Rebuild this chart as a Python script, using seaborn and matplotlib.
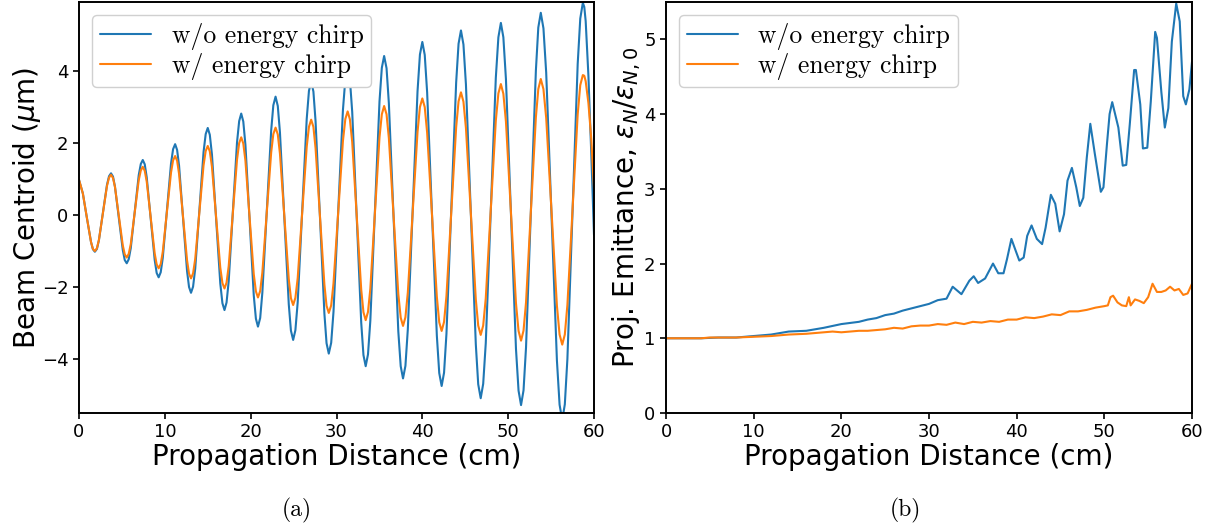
import matplotlib
matplotlib.use("Agg")
import matplotlib.pyplot as plt
import seaborn as sns

# colours of the two runs
blue = "#1f77b4"
orange = "#ff7f0e"
labels = ["w/o energy chirp", "w/ energy chirp"]

# (a) beam centroid vs propagation distance (um vs cm)
dist_centroid = [0.0, 0.45, 0.9, 1.4, 1.62, 1.85,
                 2.09, 2.32, 2.79, 3.26, 3.50, 3.73,
                 3.96, 4.19, 4.65, 5.10, 5.33, 5.56,
                 5.79, 6.03, 6.50, 6.96, 7.20, 7.43,
                 7.66, 7.89, 8.36, 8.82, 9.05, 9.28,
                 9.52, 9.76, 10.24, 10.72, 10.96, 11.2,
                 11.43, 11.66, 12.13, 12.59, 12.82, 13.05,
                 13.29, 13.54, 14.03, 14.51, 14.76, 15.0,
                 15.24, 15.49, 15.98, 16.46, 16.71, 16.95,
                 17.19, 17.44, 17.93, 18.41, 18.66, 18.9,
                 19.14, 19.39, 19.88, 20.36, 20.61, 20.85,
                 21.11, 21.36, 21.88, 22.39, 22.64, 22.9,
                 23.16, 23.41, 23.93, 24.44, 24.69, 24.95,
                 25.21, 25.48, 26.0, 26.53, 26.79, 27.05,
                 27.31, 27.56, 28.08, 28.59, 28.84, 29.1,
                 29.38, 29.65, 30.2, 30.75, 31.03, 31.3,
                 31.56, 31.83, 32.35, 32.88, 33.14, 33.4,
                 33.67, 33.94, 34.48, 35.01, 35.28, 35.55,
                 35.83, 36.1, 36.65, 37.2, 37.48, 37.75,
                 38.03, 38.31, 38.88, 39.44, 39.72, 40.0,
                 40.28, 40.56, 41.13, 41.69, 41.97, 42.25,
                 42.53, 42.81, 43.38, 43.94, 44.22, 44.5,
                 44.79, 45.08, 45.65, 46.23, 46.51, 46.8,
                 47.09, 47.39, 47.98, 48.56, 48.86, 49.15,
                 49.44, 49.74, 50.33, 50.91, 51.21, 51.5,
                 51.79, 52.08, 52.65, 53.23, 53.51, 53.8,
                 54.11, 54.43, 55.05, 55.68, 55.99, 56.3,
                 56.6, 56.9, 57.5, 58.1, 58.4, 58.7,
                 58.87, 59.03, 59.35, 59.68, 60.0]

centroid_no_chirp = [0.98, 0.60, -0.05, -0.75, -0.95, -1.02,
                     -0.94, -0.70, 0.07, 0.84, 1.08, 1.16,
                     1.07, 0.79, -0.09, -0.97, -1.25, -1.34,
                     -1.23, -0.92, 0.10, 1.11, 1.42, 1.53,
                     1.41, 1.05, -0.10, -1.25, -1.61, -1.73,
                     -1.59, -1.19, 0.12, 1.43, 1.83, 1.97,
                     1.81, 1.37, -0.10, -1.56, -2.00, -2.16,
                     -1.99, -1.49, 0.13, 1.75, 2.25, 2.42,
                     2.23, 1.68, -0.11, -1.90, -2.45, -2.64,
                     -2.43, -1.84, 0.09, 2.02, 2.61, 2.82,
                     2.60, 1.95, -0.14, -2.23, -2.88, -3.10,
                     -2.86, -2.16, 0.10, 2.35, 3.05, 3.29,
                     3.03, 2.30, -0.09, -2.48, -3.21, -3.47,
                     -3.20, -2.42, 0.13, 2.67, 3.45, 3.72,
                     3.43, 2.61, -0.07, -2.74, -3.56, -3.85,
                     -3.55, -2.69, 0.12, 2.92, 3.78, 4.08,
                     3.77, 2.87, -0.06, -2.99, -3.89, -4.20,
                     -3.87, -2.94, 0.11, 3.16, 4.09, 4.42,
                     4.08, 3.11, -0.06, -3.23, -4.20, -4.54,
                     -4.19, -3.17, 0.14, 3.44, 4.46, 4.81,
                     4.45, 3.41, 0.03, -3.35, -4.39, -4.75,
                     -4.38, -3.30, 0.19, 3.68, 4.76, 5.13,
                     4.74, 3.63, 0.02, -3.59, -4.70, -5.09,
                     -4.69, -3.56, 0.13, 3.81, 4.94, 5.34,
                     4.94, 3.78, 0.03, -3.72, -4.88, -5.28,
                     -4.87, -3.68, 0.17, 4.02, 5.21, 5.62,
                     5.19, 3.96, -0.04, -4.04, -5.27, -5.70,
                     -5.26, -4.00, 0.10, 4.20, 5.46, 5.90,
                     5.78, 5.39, 3.87, 1.72, -0.55]

centroid_chirp = [0.98, 0.60, -0.05, -0.75, -0.94, -1.00,
                  -0.92, -0.69, 0.06, 0.81, 1.04, 1.12,
                  1.03, 0.78, -0.03, -0.84, -1.09, -1.18,
                  -1.08, -0.81, 0.08, 0.97, 1.24, 1.34,
                  1.23, 0.93, -0.07, -1.07, -1.37, -1.48,
                  -1.36, -1.02, 0.08, 1.18, 1.52, 1.64,
                  1.51, 1.14, -0.06, -1.26, -1.63, -1.76,
                  -1.62, -1.22, 0.08, 1.38, 1.78, 1.92,
                  1.77, 1.34, -0.06, -1.46, -1.89, -2.04,
                  -1.88, -1.42, 0.06, 1.54, 2.00, 2.16,
                  1.99, 1.51, -0.07, -1.64, -2.12, -2.29,
                  -2.11, -1.60, 0.07, 1.74, 2.25, 2.43,
                  2.24, 1.71, -0.04, -1.78, -2.31, -2.50,
                  -2.30, -1.75, 0.08, 1.90, 2.45, 2.65,
                  2.45, 1.86, -0.04, -1.93, -2.52, -2.72,
                  -2.51, -1.90, 0.08, 2.06, 2.67, 2.88,
                  2.66, 2.03, -0.02, -2.07, -2.70, -2.92,
                  -2.69, -2.05, 0.06, 2.16, 2.80, 3.03,
                  2.80, 2.14, -0.03, -2.19, -2.85, -3.08,
                  -2.84, -2.15, 0.08, 2.31, 3.00, 3.24,
                  3.00, 2.29, 0.01, -2.27, -2.98, -3.22,
                  -2.97, -2.25, 0.10, 2.44, 3.16, 3.41,
                  3.15, 2.42, 0.04, -2.34, -3.07, -3.33,
                  -3.07, -2.31, 0.16, 2.62, 3.38, 3.64,
                  3.37, 2.60, 0.08, -2.45, -3.22, -3.49,
                  -3.21, -2.43, 0.15, 2.72, 3.50, 3.78,
                  3.50, 2.70, 0.09, -2.52, -3.32, -3.60,
                  -3.32, -2.50, 0.15, 2.80, 3.61, 3.89,
                  3.87, 3.72, 3.11, 2.12, 0.72]

# (b) projected emittance growth
dist_emit_no_chirp = [0, 2, 4, 6, 8, 10, 12, 13, 14, 16, 18, 20, 22, 23, 24, 25,
                      26, 27, 28, 29, 30, 31, 32, 32.7, 33.2, 33.7, 34.6, 35.1,
                      35.6, 36.4, 37.3, 37.9, 38.5, 38.9, 39.4, 39.8, 40.3, 40.8,
                      41.2, 41.7, 42.3, 42.9, 43.3, 43.9, 44.4, 44.9, 45.4, 45.8,
                      46.3, 46.8, 47.2, 47.6, 48.0, 48.4, 48.9, 49.6, 49.9, 50.3,
                      50.6, 50.9, 51.6, 52.1, 52.5, 52.9, 53.4, 53.6, 54.1, 54.4,
                      54.9, 55.3, 55.8, 56.0, 56.5, 56.9, 57.3, 57.7, 58.2, 58.6,
                      59.0, 59.3, 59.7, 60.0]
emit_no_chirp = [1.0, 1.0, 1.0, 1.01, 1.01, 1.03, 1.05, 1.07, 1.09, 1.10, 1.14, 1.19,
                 1.22, 1.25, 1.27, 1.31, 1.33, 1.37, 1.40, 1.43, 1.46, 1.51, 1.53,
                 1.69, 1.64, 1.59, 1.77, 1.83, 1.74, 1.80, 2.00, 1.87, 1.87, 2.06,
                 2.33, 2.20, 2.04, 2.08, 2.37, 2.51, 2.33, 2.26, 2.48, 2.92, 2.80,
                 2.43, 2.66, 3.11, 3.28, 3.02, 2.77, 2.88, 3.42, 3.87, 3.48, 2.96,
                 3.02, 3.60, 4.00, 4.16, 3.82, 3.31, 3.32, 3.86, 4.59, 4.59, 4.13,
                 3.54, 3.55, 4.17, 5.10, 5.02, 4.30, 3.82, 4.08, 4.97, 5.48, 5.24,
                 4.24, 4.13, 4.33, 4.70]

dist_emit_chirp = [0, 2, 4, 5, 6, 8, 10, 12, 13, 14, 16, 18, 19, 20, 21, 22, 23, 24,
                   25, 26, 27, 28, 29, 30, 31, 32, 33, 34, 35, 36, 37, 38, 39, 40,
                   41, 42, 43, 44, 45, 46, 47, 48, 49, 50, 50.4, 50.7, 51, 51.5, 52,
                   52.5, 52.8, 53, 53.5, 54, 54.5, 55, 55.5, 56, 56.5, 57, 57.5, 58,
                   58.5, 59, 59.5, 60]
emit_chirp = [1.0, 1.0, 1.0, 1.01, 1.01, 1.01, 1.02, 1.03, 1.04, 1.05, 1.06, 1.08,
              1.09, 1.08, 1.09, 1.10, 1.10, 1.11, 1.12, 1.14, 1.13, 1.16, 1.17, 1.17,
              1.19, 1.18, 1.21, 1.19, 1.22, 1.21, 1.23, 1.22, 1.25, 1.25, 1.28, 1.27,
              1.29, 1.32, 1.31, 1.36, 1.36, 1.38, 1.41, 1.43, 1.44, 1.55, 1.57, 1.48,
              1.44, 1.43, 1.55, 1.44, 1.52, 1.50, 1.47, 1.55, 1.73, 1.62, 1.62, 1.64,
              1.69, 1.64, 1.66, 1.58, 1.60, 1.73]

sns.set_style("ticks", {"axes.edgecolor": "black", "xtick.color": "black",
                        "ytick.color": "black", "text.color": "black",
                        "axes.labelcolor": "black"})
plt.rcParams["font.family"] = ["DejaVu Sans"]
plt.rcParams["mathtext.fontset"] = "dejavusans"
plt.rcParams["axes.linewidth"] = 1.4

fig = plt.figure(figsize=(12.2, 5.31), dpi=100)
ax1 = fig.add_axes([79 / 1220, 118 / 531, 515 / 1220, 411 / 531])
ax2 = fig.add_axes([666 / 1220, 118 / 531, 526 / 1220, 411 / 531])

sns.lineplot(x=dist_centroid, y=centroid_no_chirp, ax=ax1, color=blue,
             linewidth=1.5, label=labels[0], errorbar=None)
sns.lineplot(x=dist_centroid, y=centroid_chirp, ax=ax1, color=orange,
             linewidth=1.5, label=labels[1], errorbar=None)
ax1.set_xlim(0, 60)
ax1.set_ylim(-5.5, 5.92)
ax1.set_yticks([-4, -2, 0, 2, 4])
ax1.set_xlabel("Propagation Distance (cm)", fontsize=20, labelpad=1)
ax1.set_ylabel(r"Beam Centroid ($\mu$m)", fontsize=20, labelpad=-1)

sns.lineplot(x=dist_emit_no_chirp, y=emit_no_chirp, ax=ax2, color=blue,
             linewidth=1.5, label=labels[0], errorbar=None)
sns.lineplot(x=dist_emit_chirp, y=emit_chirp, ax=ax2, color=orange,
             linewidth=1.5, label=labels[1], errorbar=None)
ax2.set_xlim(0, 60)
ax2.set_ylim(0, 5.5)
ax2.set_yticks([0, 1, 2, 3, 4, 5])
ax2.set_xlabel("Propagation Distance (cm)", fontsize=20, labelpad=1)
ax2.set_ylabel(r"Proj. Emittance, $\varepsilon_N/\varepsilon_{N,0}$",
               fontsize=20, labelpad=0.5)

for ax in (ax1, ax2):
    ax.tick_params(labelsize=13, width=1.2, length=4)
    for side in ("top", "right"):
        ax.spines[side].set_visible(True)
    ax.legend(loc="upper left", prop={"family": "cmr10", "size": 18.5},
              framealpha=1, edgecolor="#d0d0d0", labelspacing=0.12,
              borderpad=0.3, handlelength=2.0)

fig.text(297 / 1220, 1 - 510 / 531, "(a)", family="cmr10", fontsize=17,
         ha="center", va="center")
fig.text(905 / 1220, 1 - 510 / 531, "(b)", family="cmr10", fontsize=17,
         ha="center", va="center")

fig.savefig("out.png", dpi=100)
plt.close(fig)
